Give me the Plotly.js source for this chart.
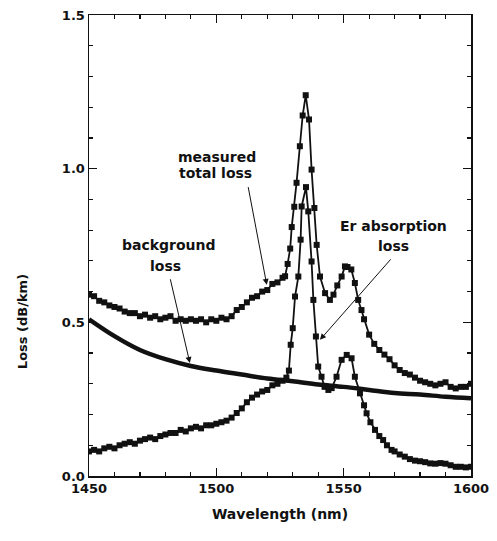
<!DOCTYPE html>
<html>
<head>
<meta charset="utf-8">
<script src="https://cdn.plot.ly/plotly-3.0.1.min.js"></script>
<style>
  html, body { margin: 0; padding: 0; background: #fff; }
  #plot { width: 497px; height: 541px; }
</style>
</head>
<body>
<div id="plot"></div>
<script>
// Measured total loss of the fibre (dB/km) versus wavelength (nm)
const wavelengthTotal = [
  1450, 1452, 1454, 1456, 1458, 1460, 1462, 1464, 1466, 1468,
  1470, 1472, 1474, 1476, 1478, 1480, 1482, 1484, 1486, 1488,
  1490, 1492, 1494, 1496, 1498, 1500, 1502, 1504, 1506, 1508,
  1510, 1512, 1514, 1516, 1518, 1520, 1522, 1524, 1526,
  1527, 1528, 1529, 1529.6, 1530.6, 1531.5, 1532.8, 1533.9, 1535.1, 1536.4,
  1537.4, 1538.5, 1539.4, 1540.7, 1542.7, 1544.6, 1546, 1547.5, 1549.2, 1550.5,
  1551.5, 1553, 1554.4, 1555.7, 1557, 1558, 1560, 1562, 1564, 1566,
  1568, 1570, 1572, 1574, 1576, 1578, 1580, 1582, 1584, 1586,
  1588, 1590, 1592, 1594, 1596, 1598, 1600
];
const lossTotal = [
  0.59, 0.585, 0.57, 0.565, 0.555, 0.55, 0.545, 0.535, 0.53, 0.53,
  0.52, 0.525, 0.515, 0.52, 0.51, 0.515, 0.52, 0.505, 0.51, 0.505,
  0.51, 0.505, 0.51, 0.50, 0.51, 0.505, 0.515, 0.51, 0.52, 0.54,
  0.55, 0.565, 0.58, 0.585, 0.60, 0.605, 0.625, 0.63, 0.645,
  0.65, 0.69, 0.74, 0.81, 0.876, 0.954, 1.073, 1.173, 1.239, 1.16,
  0.997, 0.872, 0.752, 0.649, 0.595, 0.573, 0.59, 0.62, 0.649, 0.682,
  0.68, 0.672, 0.628, 0.573, 0.54, 0.51, 0.46, 0.43, 0.41, 0.395,
  0.38, 0.36, 0.345, 0.335, 0.33, 0.32, 0.31, 0.305, 0.30, 0.295,
  0.30, 0.305, 0.29, 0.285, 0.29, 0.29, 0.30
];

// Er absorption loss (total minus background)
const wavelengthEr = [
  1450, 1452, 1454, 1456, 1458, 1460, 1462, 1464, 1466, 1468,
  1470, 1472, 1474, 1476, 1478, 1480, 1482, 1484, 1486, 1488,
  1490, 1492, 1494, 1496, 1498, 1500, 1502, 1504, 1506, 1508,
  1510, 1512, 1514, 1516, 1518, 1520, 1522, 1524, 1526,
  1527.5, 1528.5, 1529.2, 1530, 1530.9, 1532.2, 1533.1, 1533.5, 1535.2, 1536.1,
  1537.4, 1538.1, 1539.1, 1540, 1541.3, 1542.5, 1544, 1545.3, 1547.2, 1549.2,
  1551.2, 1553.1, 1554.4, 1556.4, 1558, 1559, 1560.5, 1562.3, 1564, 1565.5,
  1567, 1568.8, 1570, 1572, 1574, 1576, 1578, 1580, 1582, 1584,
  1586, 1588, 1590, 1592, 1594, 1596, 1598, 1600
];
const lossEr = [
  0.08, 0.085, 0.08, 0.09, 0.095, 0.09, 0.10, 0.105, 0.11, 0.105,
  0.115, 0.12, 0.125, 0.12, 0.13, 0.135, 0.14, 0.14, 0.15, 0.145,
  0.155, 0.16, 0.155, 0.165, 0.165, 0.17, 0.175, 0.18, 0.19, 0.205,
  0.22, 0.24, 0.255, 0.265, 0.275, 0.28, 0.295, 0.30, 0.31,
  0.32, 0.343, 0.427, 0.481, 0.584, 0.649, 0.769, 0.877, 0.94, 0.861,
  0.698, 0.573, 0.454, 0.356, 0.323, 0.29, 0.28, 0.286, 0.323, 0.378,
  0.394, 0.383, 0.323, 0.269, 0.23, 0.204, 0.175, 0.15, 0.13, 0.117,
  0.10, 0.085, 0.08, 0.07, 0.063, 0.055, 0.05, 0.048, 0.045, 0.041,
  0.04, 0.042, 0.04, 0.035, 0.03, 0.03, 0.028, 0.03
];

// Background (non-Er) loss
const wavelengthBg = [1450, 1460, 1470, 1480, 1490, 1500, 1510, 1520, 1530, 1540, 1550, 1560, 1570, 1580, 1590, 1600];
const lossBg = [0.51, 0.455, 0.41, 0.38, 0.358, 0.343, 0.33, 0.317, 0.308, 0.298, 0.29, 0.28, 0.27, 0.265, 0.258, 0.253];

// Axis ranges and tick spacing
const xRange = [1450, 1600];
const yRange = [0, 1.5];

const FONT = 'DejaVu Sans, Arial, sans-serif';

const markerStyle = { symbol: 'square', size: 6, color: '#111' };

const traces = [
  {
    x: wavelengthBg, y: lossBg, type: 'scatter', mode: 'lines',
    line: { color: '#111', width: 4.5, shape: 'spline' },
    hoverinfo: 'skip'
  },
  {
    x: wavelengthTotal, y: lossTotal, type: 'scatter', mode: 'lines+markers',
    line: { color: '#111', width: 1.8 }, marker: markerStyle
  },
  {
    x: wavelengthEr, y: lossEr, type: 'scatter', mode: 'lines+markers',
    line: { color: '#111', width: 1.8 }, marker: markerStyle
  }
];

const label = (text, x, y) => ({
  text: text, x: x, y: y, xref: 'x', yref: 'y', showarrow: false,
  font: { family: FONT, size: 14, color: '#111', weight: 'bold' },
  xanchor: 'center', yanchor: 'middle'
});
const pointer = (x, y, ax, ay) => ({
  text: '', x: x, y: y, ax: ax, ay: ay, xref: 'x', yref: 'y', axref: 'x', ayref: 'y',
  showarrow: true, arrowhead: 2, arrowsize: 1.2, arrowwidth: 1, arrowcolor: '#111'
});

const annotations = [
  label('measured', 1500.4, 1.039),
  label('total loss', 1499.5, 0.987),
  label('background', 1481.4, 0.752),
  label('loss', 1480.2, 0.682),
  label('Er absorption', 1569.7, 0.812),
  label('loss', 1569.4, 0.747),
  pointer(1519.8, 0.622, 1512.4, 0.945),
  pointer(1489.6, 0.368, 1481.8, 0.645),
  pointer(1540.7, 0.443, 1569.0, 0.710),
  {
    text: 'Loss (dB/km)', textangle: -90, xref: 'paper', yref: 'paper',
    x: -0.175, y: (476 - 257 - 65) / (541 - 15 - 65), showarrow: false,
    xanchor: 'center', yanchor: 'middle',
    font: { family: FONT, size: 13, color: '#111', weight: 'bold' }
  }
];

const axisCommon = {
  showgrid: false, zeroline: false, showline: true, linecolor: '#111', linewidth: 1.5,
  mirror: 'allticks', ticks: 'inside', ticklen: 8, tickwidth: 1.5, tickcolor: '#111',
  tickfont: { family: FONT, size: 13, color: '#111', weight: 'bold' }
};

const layout = {
  width: 497, height: 541,
  margin: { l: 89, r: 26, t: 15, b: 65 },
  paper_bgcolor: '#fff', plot_bgcolor: '#fff',
  showlegend: false,
  xaxis: Object.assign({}, axisCommon, {
    range: xRange, tickmode: 'linear', tick0: 1450, dtick: 50,
    minor: { dtick: 10, ticks: 'inside', ticklen: 4, tickwidth: 1.2, tickcolor: '#111', showgrid: false },
    title: { text: 'Wavelength (nm)', standoff: 14, font: { family: FONT, size: 14, color: '#111', weight: 'bold' } }
  }),
  yaxis: Object.assign({}, axisCommon, {
    range: yRange, tickmode: 'linear', tick0: 0, dtick: 0.5, tickformat: '.1f',
    minor: { dtick: 0.1, ticks: 'inside', ticklen: 4, tickwidth: 1.2, tickcolor: '#111', showgrid: false }
  }),
  annotations: annotations
};

Plotly.newPlot('plot', traces, layout, { displayModeBar: false, staticPlot: true });
</script>
</body>
</html>
